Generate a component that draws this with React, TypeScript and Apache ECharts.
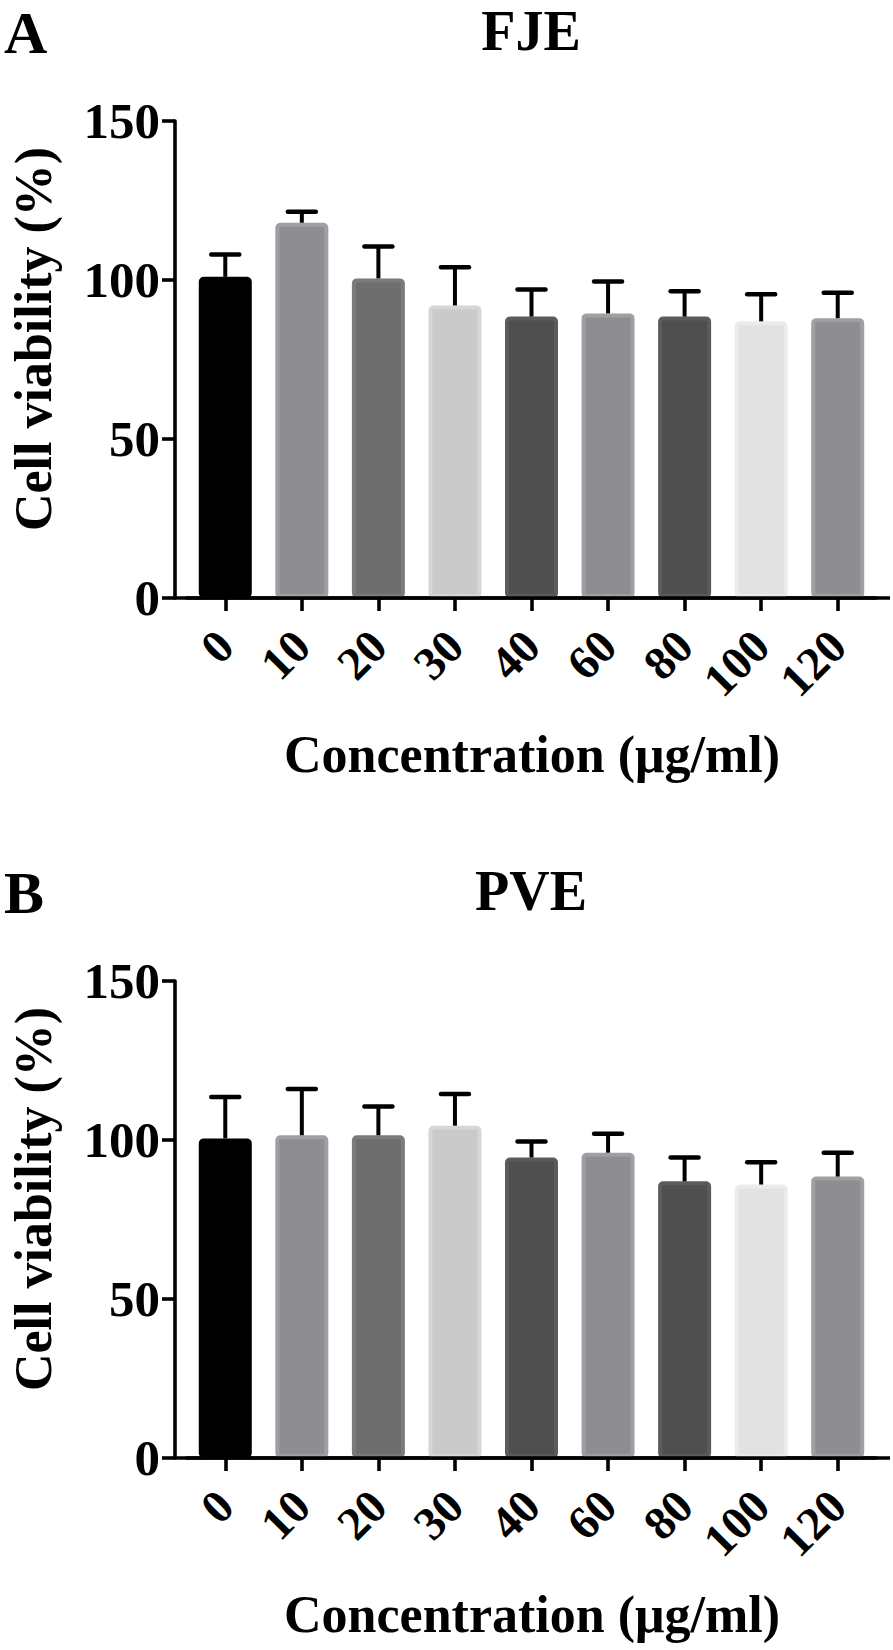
import React, { useEffect, useRef } from "react";
import * as echarts from "echarts";

const categories = ["0", "10", "20", "30", "40", "60", "80", "100", "120"];
const fjeMean = [101, 118, 100.5, 92, 88.5, 89.5, 88.5, 87, 88];
const fjeErr = [7, 3.5, 10, 12, 8.5, 10, 8, 8.5, 8];
const pveMean = [100.5, 101.5, 101.5, 104.5, 94.5, 96, 87, 86, 88.5];
const pveErr = [13, 14.5, 9, 10, 5, 6, 7.5, 7, 7.5];
const barFill = ["#000000", "#8e8e92", "#6e6e6e", "#cacaca", "#4f4f4f", "#8e8e92", "#4f4f4f", "#e2e2e2", "#8e8e92"];
const barEdge = ["#000000", "#a0a0a4", "#7b7b7b", "#d6d6d6", "#5b5b5b", "#a0a0a4", "#5b5b5b", "#ebebeb", "#a0a0a4"];
const yMin = 0;
const yMax = 150;
const yStep = 50;
const panelLetters = ["A", "B"];
const panelTitles = ["FJE", "PVE"];
const yTitle = "Cell viability (%)";
const xTitle = "Concentration (μg/ml)";

const FONT = '"Liberation Serif", "Times New Roman", serif';
const GRID_LEFT = 187;
const GRID_RIGHT_X = 876;
const Y_OFFSET = 12;
const AXIS_END_X = 890;
const PANEL_TOPS = [121, 981];
const PLOT_H = 477;
const LW = 3.6;

export default function App() {
  const ref = useRef<HTMLDivElement>(null);
  useEffect(() => {
    if (!ref.current) return;
    const chart = echarts.init(ref.current, null, { renderer: "svg" });
    const means = [fjeMean, pveMean];
    const errs = [fjeErr, pveErr];

    const grids = PANEL_TOPS.map((t) => ({
      left: GRID_LEFT,
      width: GRID_RIGHT_X - GRID_LEFT,
      top: t,
      height: PLOT_H,
      containLabel: false,
    }));
    const xAxes = PANEL_TOPS.map((_, k) => ({
      type: "category",
      gridIndex: k,
      data: categories,
      boundaryGap: true,
      axisLine: { show: true, lineStyle: { color: "#000", width: LW } },
      axisTick: { show: true, alignWithLabel: true, length: 13, lineStyle: { color: "#000", width: LW } },
      axisLabel: {
        rotate: 45,
        margin: 40,
        fontSize: 47,
        fontWeight: "bold",
        fontFamily: FONT,
        color: "#000",
        interval: 0,
      },
      splitLine: { show: false },
    }));
    const yAxes = PANEL_TOPS.map((_, k) => ({
      type: "value",
      gridIndex: k,
      min: yMin,
      max: yMax,
      interval: yStep,
      offset: Y_OFFSET,
      axisLine: { show: true, lineStyle: { color: "#000", width: LW } },
      axisTick: { show: true, length: 13, lineStyle: { color: "#000", width: LW } },
      axisLabel: {
        margin: 15,
        fontSize: 51,
        fontWeight: "bold",
        fontFamily: FONT,
        color: "#000",
      },
      splitLine: { show: false },
    }));

    const series: any[] = [];
    PANEL_TOPS.forEach((_, k) => {
      series.push({
        type: "bar",
        xAxisIndex: k,
        yAxisIndex: k,
        barWidth: 53,
        data: means[k].map((v, i) => ({
          value: v,
          itemStyle: {
            color: barFill[i],
            borderColor: barEdge[i],
            borderWidth: 4,
            borderRadius: 3,
          },
        })),
        z: 2,
      });
      series.push({
        type: "custom",
        xAxisIndex: k,
        yAxisIndex: k,
        z: 5,
        encode: { x: 0, y: [1, 2] },
        data: means[k].map((v, i) => [i, v, v + errs[k][i]]),
        renderItem: (params: any, api: any) => {
          const x = api.value(0);
          const p0 = api.coord([x, api.value(1)]);
          const p1 = api.coord([x, api.value(2)]);
          return {
            type: "group",
            children: [
              {
                type: "line",
                shape: { x1: p0[0], y1: p0[1], x2: p1[0], y2: p1[1] },
                style: { stroke: "#000", lineWidth: 4 },
              },
              {
                type: "line",
                shape: { x1: p1[0] - 14, y1: p1[1], x2: p1[0] + 14, y2: p1[1] },
                style: { stroke: "#000", lineWidth: 4.5, lineCap: "round" },
              },
            ],
          };
        },
      });
    });

    const graphic: any[] = [];
    PANEL_TOPS.forEach((t, k) => {
      const base = t + PLOT_H;
      graphic.push({
        type: "line",
        shape: { x1: GRID_LEFT - Y_OFFSET, y1: base, x2: AXIS_END_X, y2: base },
        style: { stroke: "#000", lineWidth: LW },
        z: 10,
      });
      graphic.push({
        type: "text",
        x: 4,
        y: t - 88,
        style: {
          text: panelLetters[k],
          font: `bold 60px ${FONT}`,
          fill: "#000",
          textAlign: "left",
          textVerticalAlign: "middle",
        },
      });
      graphic.push({
        type: "text",
        x: 531,
        y: t - 90,
        style: {
          text: panelTitles[k],
          font: `bold 56px ${FONT}`,
          fill: "#000",
          textAlign: "center",
          textVerticalAlign: "middle",
        },
      });
      graphic.push({
        type: "text",
        x: 33,
        y: t + 218,
        rotation: Math.PI / 2,
        style: {
          text: yTitle,
          font: `bold 52px ${FONT}`,
          fill: "#000",
          textAlign: "center",
          textVerticalAlign: "middle",
        },
      });
      graphic.push({
        type: "text",
        x: 532,
        y: base + 156,
        style: {
          text: xTitle,
          font: `bold 52px ${FONT}`,
          fill: "#000",
          textAlign: "center",
          textVerticalAlign: "middle",
        },
      });
    });

    chart.setOption({
      animation: false,
      backgroundColor: "#fff",
      grid: grids,
      xAxis: xAxes,
      yAxis: yAxes,
      series,
      graphic,
    });
    return () => chart.dispose();
  }, []);
  return (
    <div
      ref={ref}
      style={{ position: "absolute", left: 0, top: 0, width: 893, height: 1650, background: "#fff" }}
    />
  );
}
